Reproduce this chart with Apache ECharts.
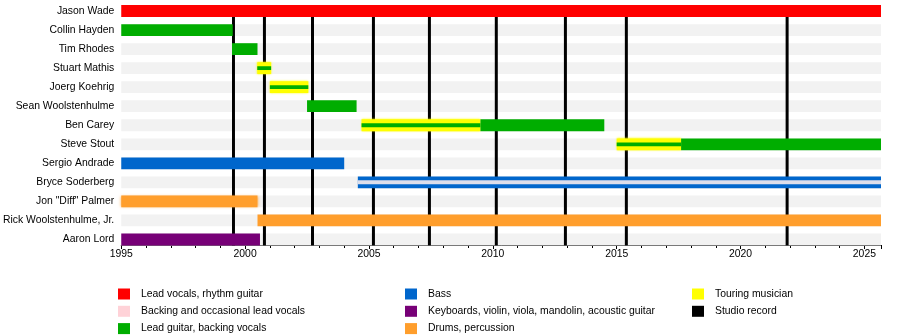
<!DOCTYPE html>
<html>
<head>
<meta charset="utf-8">
<script src="https://cdn.jsdelivr.net/npm/echarts@6/dist/echarts.min.js"></script>
<style>
html,body{margin:0;padding:0;background:#fff;}
#chart{width:900px;height:335px;}
</style>
</head>
<body>
<div id="chart"></div>
<script>
// ---- data ----
const members = ["Jason Wade","Collin Hayden","Tim Rhodes","Stuart Mathis","Joerg Koehrig","Sean Woolstenhulme","Ben Carey","Steve Stout","Sergio Andrade","Bryce Soderberg","Jon \"Diff\" Palmer","Rick Woolstenhulme, Jr.","Aaron Lord"];
const startYear = 1995;
const endYear = 2025.67;
const xTicks = [1995, 2000, 2005, 2010, 2015, 2020, 2025];
const studioRecords = [1999.53, 2000.78, 2002.72, 2005.18, 2007.44, 2010.14, 2012.93, 2015.39, 2021.88];
// [memberIndex, from, to]
const leadVocals = [[0, 1995, 2025.67]];
const backingVocals = [[9, 2004.55, 2025.67]];
const leadGuitar = [[1, 1995, 1999.5],[2, 1999.47, 2000.5],[3, 2000.49, 2001.05],[4, 2001.0, 2002.55],[5, 2002.5, 2004.5],[6, 2004.7, 2009.5],[6, 2009.5, 2014.5],[7, 2015.0, 2017.6],[7, 2017.6, 2025.67]];
const bass = [[8, 1995, 2004.0],[9, 2004.55, 2025.67]];
const keyboards = [[12, 1995, 2000.6]];
const drums = [[10, 1995, 2000.5],[11, 2000.5, 2025.67]];
const touring = [[3, 2000.49, 2001.05],[4, 2001.0, 2002.55],[6, 2004.7, 2009.5],[7, 2015.0, 2017.6]];

const C = {
  red: '#FF0000', pink: '#FFD2D8', green: '#00AD00', blue: '#0066CC',
  purple: '#770077', orange: '#FF9E2C', yellow: '#FFFF00', black: '#000000'
};
const FONT = 'Liberation Sans, Arial, sans-serif';
const BAR_FRAC = 0.62;

function isTouring(m, a, b) {
  return touring.some(t => t[0] === m && a >= t[1] - 1e-6 && b <= t[2] + 1e-6);
}

function barRender(mode) {
  return function (params, api) {
    const m = api.value(0);
    const s = api.coord([api.value(1), m]);
    const e = api.coord([api.value(2), m]);
    const band = api.size([0, 1])[1];
    let h = band * BAR_FRAC;
    let fill = api.visual('color');
    let extra = {};
    if (mode === 'guitar' && isTouring(m, api.value(1), api.value(2))) h = 3.8;
    if (mode === 'stripe') { h = 4; fill = '#DCDEEB'; }
    if (mode === 'band') fill = '#F2F2F2';
    if (mode === 'touring') extra = { shadowBlur: 2, shadowColor: 'rgba(255,255,0,0.9)' };
    if (mode === 'drums' && m === 10) extra = { shadowBlur: 3, shadowColor: 'rgba(255,158,44,0.8)' };
    return {
      type: 'rect',
      shape: { x: s[0], y: s[1] - h / 2, width: e[0] - s[0], height: h },
      style: Object.assign({ fill: fill }, extra)
    };
  };
}

function lineRender(params, api) {
  const x = api.value(0);
  const band = api.size([0, 1])[1];
  const top = api.coord([x, 0]);
  const bot = api.coord([x, members.length - 1]);
  return {
    type: 'line',
    shape: { x1: top[0], y1: top[1], x2: top[0], y2: bot[1] + band * BAR_FRAC / 2 },
    style: { stroke: C.black, lineWidth: 3 }
  };
}

function barSeries(name, data, color, mode, z) {
  return {
    type: 'custom', name: name, data: data, z: z,
    itemStyle: { color: color },
    renderItem: barRender(mode),
    encode: { x: [1, 2], y: 0 },
    silent: true, animation: false
  };
}

const chart = echarts.init(document.getElementById('chart'), null, { renderer: 'canvas' });
const legendBase = {
  orient: 'vertical', icon: 'rect', itemWidth: 12, itemHeight: 11, itemGap: 5.3,
  selectedMode: false, padding: 0, height: 80,
  textStyle: { fontFamily: FONT, fontSize: 10.4, color: '#000', padding: [0, 0, 0, 6], lineHeight: 12 }
};
chart.setOption({
  animation: false,
  grid: { left: 120, right: 19, top: 1.5, height: 247.5 },
  xAxis: {
    type: 'value', min: startYear, max: endYear, interval: 5, offset: -4,
    axisLine: { show: true, lineStyle: { color: '#000', width: 1 } },
    axisTick: { show: true, length: 4, lineStyle: { color: '#000' } },
    minorTick: { show: true, splitNumber: 5, length: 3, lineStyle: { color: '#000' } },
    splitLine: { show: false },
    axisLabel: {
      fontFamily: FONT, fontSize: 10.4, color: '#000', margin: 4, showMaxLabel: false,
      formatter: v => (xTicks.indexOf(v) >= 0 ? String(v) : '')
    }
  },
  yAxis: {
    type: 'category', data: members, inverse: true,
    axisLine: { show: false }, axisTick: { show: false }, splitLine: { show: false },
    axisLabel: { fontFamily: FONT, fontSize: 10.4, color: '#000', margin: 7 }
  },
  legend: [
    Object.assign({}, legendBase, { left: 118, top: 288, data: ['Lead vocals, rhythm guitar', 'Backing and occasional lead vocals', 'Lead guitar, backing vocals'] }),
    Object.assign({}, legendBase, { left: 405, top: 288, data: ['Bass', 'Keyboards, violin, viola, mandolin, acoustic guitar', 'Drums, percussion'] }),
    Object.assign({}, legendBase, { left: 692, top: 288, data: ['Touring musician', 'Studio record'] })
  ],
  series: [
    barSeries('rows', members.map((m, i) => [i, startYear, endYear]), '#F2F2F2', 'band', 1),
    {
      type: 'custom', name: 'Studio record', data: studioRecords.map(v => [v]), z: 2,
      itemStyle: { color: C.black }, renderItem: lineRender, encode: { x: 0 }, silent: true
    },
    barSeries('Touring musician', touring, C.yellow, 'touring', 3),
    barSeries('Lead vocals, rhythm guitar', leadVocals, C.red, 'plain', 4),
    barSeries('Lead guitar, backing vocals', leadGuitar, C.green, 'guitar', 4),
    barSeries('Bass', bass, C.blue, 'plain', 4),
    barSeries('Backing and occasional lead vocals', backingVocals, C.pink, 'stripe', 5),
    barSeries('Keyboards, violin, viola, mandolin, acoustic guitar', keyboards, C.purple, 'plain', 4),
    barSeries('Drums, percussion', drums, C.orange, 'drums', 4)
  ]
});
</script>
</body>
</html>
